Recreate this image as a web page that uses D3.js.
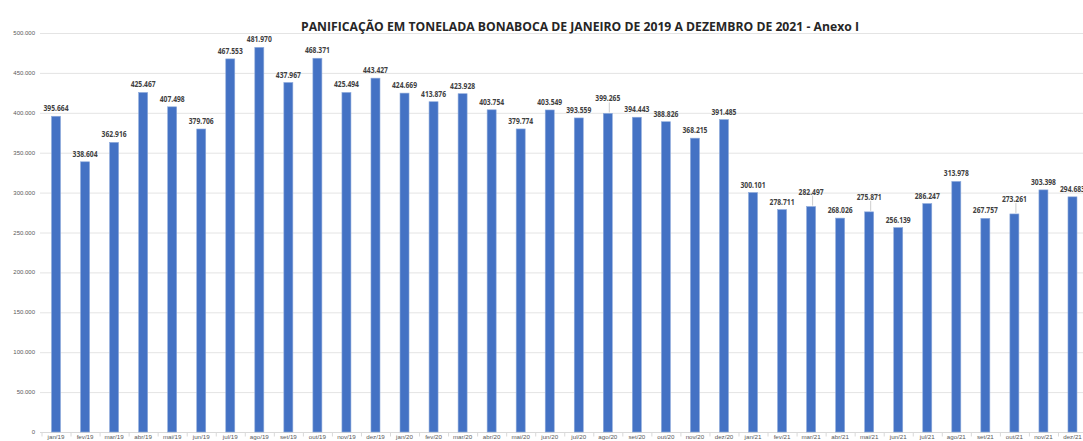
<!DOCTYPE html>
<html><head><meta charset="utf-8">
<script src="https://cdn.jsdelivr.net/npm/d3@7"></script>
<style>html,body{margin:0;padding:0;background:#fff;overflow:hidden}</style>
</head><body>
<svg id="c" width="1083" height="441"></svg>
<script>
const title = "PANIFICAÇÃO EM TONELADA BONABOCA DE JANEIRO DE 2019 A DEZEMBRO DE 2021 - Anexo I";
const months = ["jan/19","fev/19","mar/19","abr/19","mai/19","jun/19","jul/19","ago/19","set/19","out/19","nov/19","dez/19",
"jan/20","fev/20","mar/20","abr/20","mai/20","jun/20","jul/20","ago/20","set/20","out/20","nov/20","dez/20",
"jan/21","fev/21","mar/21","abr/21","mai/21","jun/21","jul/21","ago/21","set/21","out/21","nov/21","dez/21"];
const values = [395.664,338.604,362.916,425.467,407.498,379.706,467.553,481.970,437.967,468.371,425.494,443.427,
424.669,413.876,423.928,403.754,379.774,403.549,393.559,399.265,394.443,388.826,368.215,391.485,
300.101,278.711,282.497,268.026,275.871,256.139,286.247,313.978,267.757,273.261,303.398,294.683];
const yTicks = [0,50,100,150,200,250,300,350,400,450,500];
// labels that the reference shows lifted with a leader line
const leaderLabels = ["ago/20","mar/21","mai/21","out/21"];

const svg = d3.select("#c");
const x = d3.scaleBand().domain(months).range([41.5,1087]).paddingInner(0.69).paddingOuter(0.345);
const y = d3.scaleLinear().domain([0,500]).range([432,33]);
const data = months.map((m,i)=>({m, v: values[i], lifted: leaderLabels.includes(m)}));

// gridlines
svg.append("g").selectAll("line").data(yTicks.filter(t=>t>0)).join("line")
  .attr("x1",40).attr("x2",1083).attr("y1",d=>y(d)+0.5).attr("y2",d=>y(d)+0.5)
  .attr("stroke","#e4e4e4").attr("stroke-width",1);

// y labels
svg.append("g").selectAll("text").data(yTicks).join("text")
  .attr("x",35).attr("y",d=>y(d)+2).attr("text-anchor","end")
  .attr("font-family","Liberation Sans, Arial, sans-serif").attr("font-size",6)
  .attr("fill","#595959").text(d=> d===0 ? "0" : d3.format(".3f")(d));

// x axis
const xa = svg.append("g").attr("transform",`translate(0,${y(0)+0.5})`);
xa.append("line").attr("x1",40).attr("x2",1083).attr("stroke","#d9d9d9");
xa.selectAll("line.t").data(months).join("line").attr("class","t")
  .attr("x1",d=>x(d)-x.step()*0.345+0.5).attr("x2",d=>x(d)-x.step()*0.345+0.5)
  .attr("y1",0).attr("y2",4).attr("stroke","#d9d9d9");
xa.selectAll("text").data(months).join("text")
  .attr("x",d=>x(d)+x.bandwidth()/2).attr("y",6.8).attr("text-anchor","middle")
  .attr("font-family","Liberation Sans, Arial, sans-serif").attr("font-size",6.2)
  .attr("fill","#595959").text(d=>d);

// bars
svg.append("g").selectAll("rect").data(data).join("rect")
  .attr("x",d=>x(d.m)).attr("width",x.bandwidth())
  .attr("y",d=>y(d.v)).attr("height",d=>y(0)-y(d.v))
  .attr("fill","#4472C4").attr("stroke","#8eaadb").attr("stroke-width",0.6);

// leader lines
svg.append("g").selectAll("line").data(data.filter(d=>d.lifted)).join("line")
  .attr("x1",d=>x(d.m)+x.bandwidth()/2+1.5).attr("x2",d=>x(d.m)+x.bandwidth()/2+1.5)
  .attr("y1",d=>y(d.v)-1).attr("y2",d=>y(d.v)-11)
  .attr("stroke","#bfbfbf").attr("stroke-width",0.8);

// data labels
const labels = svg.append("g").selectAll("text").data(data).join("text")
  .attr("x",d=>x(d.m)+x.bandwidth()/2).attr("y",d=>y(d.v)-5-(d.lifted?7:0))
  .attr("text-anchor","middle")
  .attr("font-family","Open Sans, Liberation Sans, sans-serif").attr("font-weight","bold")
  .attr("font-size",9.6).attr("fill","#404040")
  .attr("textLength",25).attr("lengthAdjust","spacingAndGlyphs")
  .text(d=>d3.format(".3f")(d.v));

// nudge the lower of two touching neighbour labels down (toward its bar), as Excel does
const nodes = labels.nodes();
for (let i = 1; i < nodes.length; i++) {
  const a = nodes[i-1].getBoundingClientRect(), b = nodes[i].getBoundingClientRect();
  const hOver = a.right > b.left && b.right > a.left;
  const vOver = Math.min(a.bottom, b.bottom) - Math.max(a.top, b.top);
  if (hOver && vOver > 0) {
    const lower = a.top > b.top ? nodes[i-1] : nodes[i];
    const shift = Math.min(vOver + 0.5, 4);
    lower.setAttribute("y", +lower.getAttribute("y") + shift);
  }
}

// title
svg.append("text").attr("x",580).attr("y",31).attr("text-anchor","middle")
  .attr("font-family","Open Sans, Liberation Sans, sans-serif").attr("font-weight","bold")
  .attr("font-size",12.2).attr("fill","#262626").text(title);
</script>
</body></html>
